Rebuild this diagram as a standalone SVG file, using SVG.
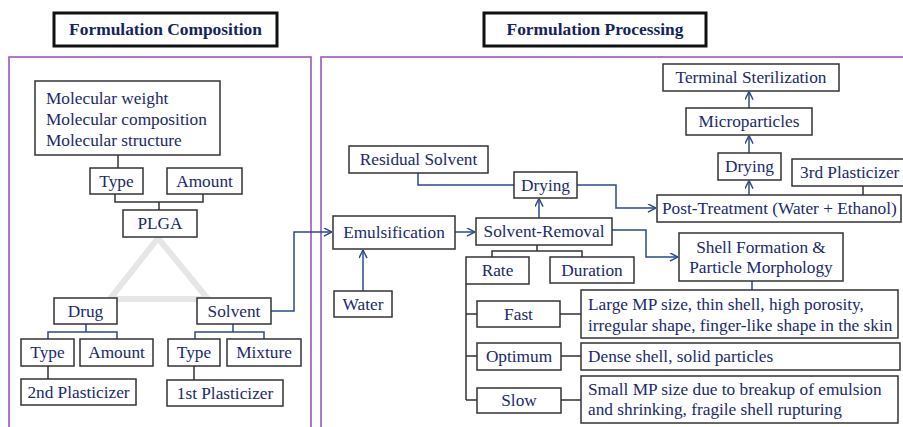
<svg xmlns="http://www.w3.org/2000/svg" width="903" height="427" viewBox="0 0 903 427" font-family="Liberation Serif, Times New Roman, serif">
<defs>
<style>
.t{font-size:17.3px;fill:#1b2a6b;text-anchor:middle}
.tl{font-size:17.3px;fill:#1b2a6b}
.h{font-size:17.4px;font-weight:bold;fill:#14245e;text-anchor:middle}
.b{fill:#fff;stroke:#333;stroke-width:1.5}
.hb{fill:#fff;stroke:#111;stroke-width:3}
.p{fill:none;stroke:#9b55c4;stroke-width:1.6}
.cb{fill:none;stroke:#2c4a8c;stroke-width:1.5}
.cg{fill:none;stroke:#333;stroke-width:1.5}
.ca{fill:none;stroke:#2c4a8c;stroke-width:1.5;marker-end:url(#ar)}
</style>
<marker id="ar" viewBox="0 0 10 10" refX="10" refY="5" markerWidth="9" markerHeight="9" markerUnits="userSpaceOnUse" orient="auto">
<path d="M1,0.5 L10,5 L1,9.5" fill="none" stroke="#2c4a8c" stroke-width="1.6"/>
</marker>
</defs>
<rect width="903" height="427" fill="#fff"/>

<!-- panels -->
<rect class="p" x="9" y="57" width="302" height="390"/>
<rect class="p" x="321" y="57" width="600" height="390"/>

<g font-family="Liberation Serif, serif">
<!-- titles -->
<g id="title-composition"><rect class="hb" x="54" y="13" width="223" height="33"/><text class="h" x="165.5" y="35" font-family="Liberation Serif">Formulation Composition</text></g>
<g id="title-processing"><rect class="hb" x="484" y="13" width="222" height="33"/><text class="h" x="595" y="35" font-family="Liberation Serif">Formulation Processing</text></g>

<!-- gray triangle -->
<polygon points="158,238 110,299 208,299" fill="none" stroke="#e6e6e6" stroke-width="6" stroke-linejoin="miter"/>

<!-- connectors -->
<g id="connectors">
<path class="cg" d="M118 155V168"/>
<path class="cg" d="M115 194V202H203V194M159 202V210"/>
<path class="cb" d="M86 324V332M48 339V332H117V339"/>
<path class="cg" d="M48 366V379"/>
<path class="cb" d="M233 324V332M195 339V332H264V339"/>
<path class="cg" d="M194 366V380"/>
<path class="ca" d="M271 311H294V232H332"/>
<path class="ca" d="M455 232H475"/>
<path class="ca" d="M363 291V250"/>
<path class="ca" d="M539 218V198.5"/>
<path class="ca" d="M577 185H616V208H656"/>
<path class="ca" d="M612 230H646V257H678"/>
<path class="ca" d="M749 195V180.5"/>
<path class="ca" d="M749 153V135.5"/>
<path class="ca" d="M749 108V91.5"/>
<path class="cb" d="M418 173V185H514"/>
<path class="cg" d="M863 186V195"/>
<path class="cg" d="M537 245V251M492 257V251H582V257"/>
<path class="cg" d="M466 284V400M466 314H477M466 356H477M466 400H477"/>
<path class="cg" d="M560 314H581M561 356H581M561 400H581"/>
<path class="cb" d="M752 281V290"/>
</g>

<!-- left nodes -->
<g id="molecular"><rect class="b" x="35" y="81" width="185" height="74"/>
<text class="tl" x="46" y="104">Molecular weight</text>
<text class="tl" x="46" y="125">Molecular composition</text>
<text class="tl" x="46" y="146">Molecular structure</text></g>
<g id="plga-type"><rect class="b" x="90" y="168" width="53" height="26"/><text class="t" x="116.5" y="187">Type</text></g>
<g id="plga-amount"><rect class="b" x="167" y="168" width="75" height="26"/><text class="t" x="204.5" y="187">Amount</text></g>
<g id="plga"><rect class="b" x="123" y="210" width="74" height="27"/><text class="t" x="160" y="229">PLGA</text></g>
<g id="drug"><rect class="b" x="54" y="298" width="63" height="26"/><text class="t" x="85.5" y="317">Drug</text></g>
<g id="solvent"><rect class="b" x="197" y="298" width="74" height="26"/><text class="t" x="234" y="317">Solvent</text></g>
<g id="drug-type"><rect class="b" x="21" y="339" width="53" height="27"/><text class="t" x="47.5" y="358">Type</text></g>
<g id="drug-amount"><rect class="b" x="80" y="339" width="73" height="27"/><text class="t" x="116.5" y="358">Amount</text></g>
<g id="plasticizer2"><rect class="b" x="21" y="379" width="115" height="26"/><text class="t" x="78.5" y="398">2nd Plasticizer</text></g>
<g id="solvent-type"><rect class="b" x="168" y="339" width="52" height="27"/><text class="t" x="194" y="358">Type</text></g>
<g id="mixture"><rect class="b" x="227" y="339" width="74" height="27"/><text class="t" x="264" y="358">Mixture</text></g>
<g id="plasticizer1"><rect class="b" x="167" y="380" width="116" height="26"/><text class="t" x="225" y="399">1st Plasticizer</text></g>

<!-- right nodes -->
<g id="terminal"><rect class="b" x="663" y="64" width="176" height="27"/><text class="t" x="751" y="83">Terminal Sterilization</text></g>
<g id="microparticles"><rect class="b" x="686" y="108" width="126" height="27"/><text class="t" x="749" y="127">Microparticles</text></g>
<g id="drying2"><rect class="b" x="718" y="153" width="63" height="27"/><text class="t" x="749.5" y="172">Drying</text></g>
<g id="plasticizer3"><rect class="b" x="792" y="159" width="120" height="27"/><text class="tl" x="800" y="178">3rd Plasticizer</text></g>
<g id="post-treatment"><rect class="b" x="657" y="195" width="244" height="27"/><text class="tl" x="662" y="214">Post-Treatment (Water + Ethanol)</text></g>
<g id="residual"><rect class="b" x="349" y="146" width="139" height="27"/><text class="t" x="418.5" y="165">Residual Solvent</text></g>
<g id="drying1"><rect class="b" x="514" y="172" width="63" height="26"/><text class="t" x="545.5" y="191">Drying</text></g>
<g id="emulsification"><rect class="b" x="333" y="216" width="122" height="33"/><text class="t" x="394" y="238">Emulsification</text></g>
<g id="solvent-removal"><rect class="b" x="476" y="218" width="136" height="27"/><text class="t" x="544" y="237">Solvent-Removal</text></g>
<g id="water"><rect class="b" x="334" y="291" width="58" height="26"/><text class="t" x="363" y="310">Water</text></g>
<g id="shell"><rect class="b" x="679" y="233" width="164" height="48"/><text class="t" x="761" y="253">Shell Formation &amp;</text><text class="t" x="761" y="273">Particle Morphology</text></g>
<g id="rate"><rect class="b" x="466" y="257" width="63" height="27"/><text class="t" x="497.5" y="276">Rate</text></g>
<g id="duration"><rect class="b" x="550" y="257" width="84" height="26"/><text class="t" x="592" y="276">Duration</text></g>
<g id="fast"><rect class="b" x="477" y="301" width="83" height="26"/><text class="t" x="518.5" y="320">Fast</text></g>
<g id="optimum"><rect class="b" x="477" y="343" width="84" height="27"/><text class="t" x="519" y="362">Optimum</text></g>
<g id="slow"><rect class="b" x="477" y="388" width="84" height="25"/><text class="t" x="519" y="406">Slow</text></g>
<g id="fast-desc"><rect class="b" x="581" y="290" width="317" height="48"/><text class="tl" x="588" y="310">Large MP size, thin shell, high porosity,</text><text class="tl" x="588" y="331">irregular shape, finger-like shape in the skin</text></g>
<g id="optimum-desc"><rect class="b" x="581" y="343" width="319" height="27"/><text class="tl" x="588" y="362">Dense shell, solid particles</text></g>
<g id="slow-desc"><rect class="b" x="581" y="376" width="317" height="47"/><text class="tl" x="588" y="395">Small MP size due to breakup of emulsion</text><text class="tl" x="588" y="415">and shrinking, fragile shell rupturing</text></g>
</g>
</svg>
